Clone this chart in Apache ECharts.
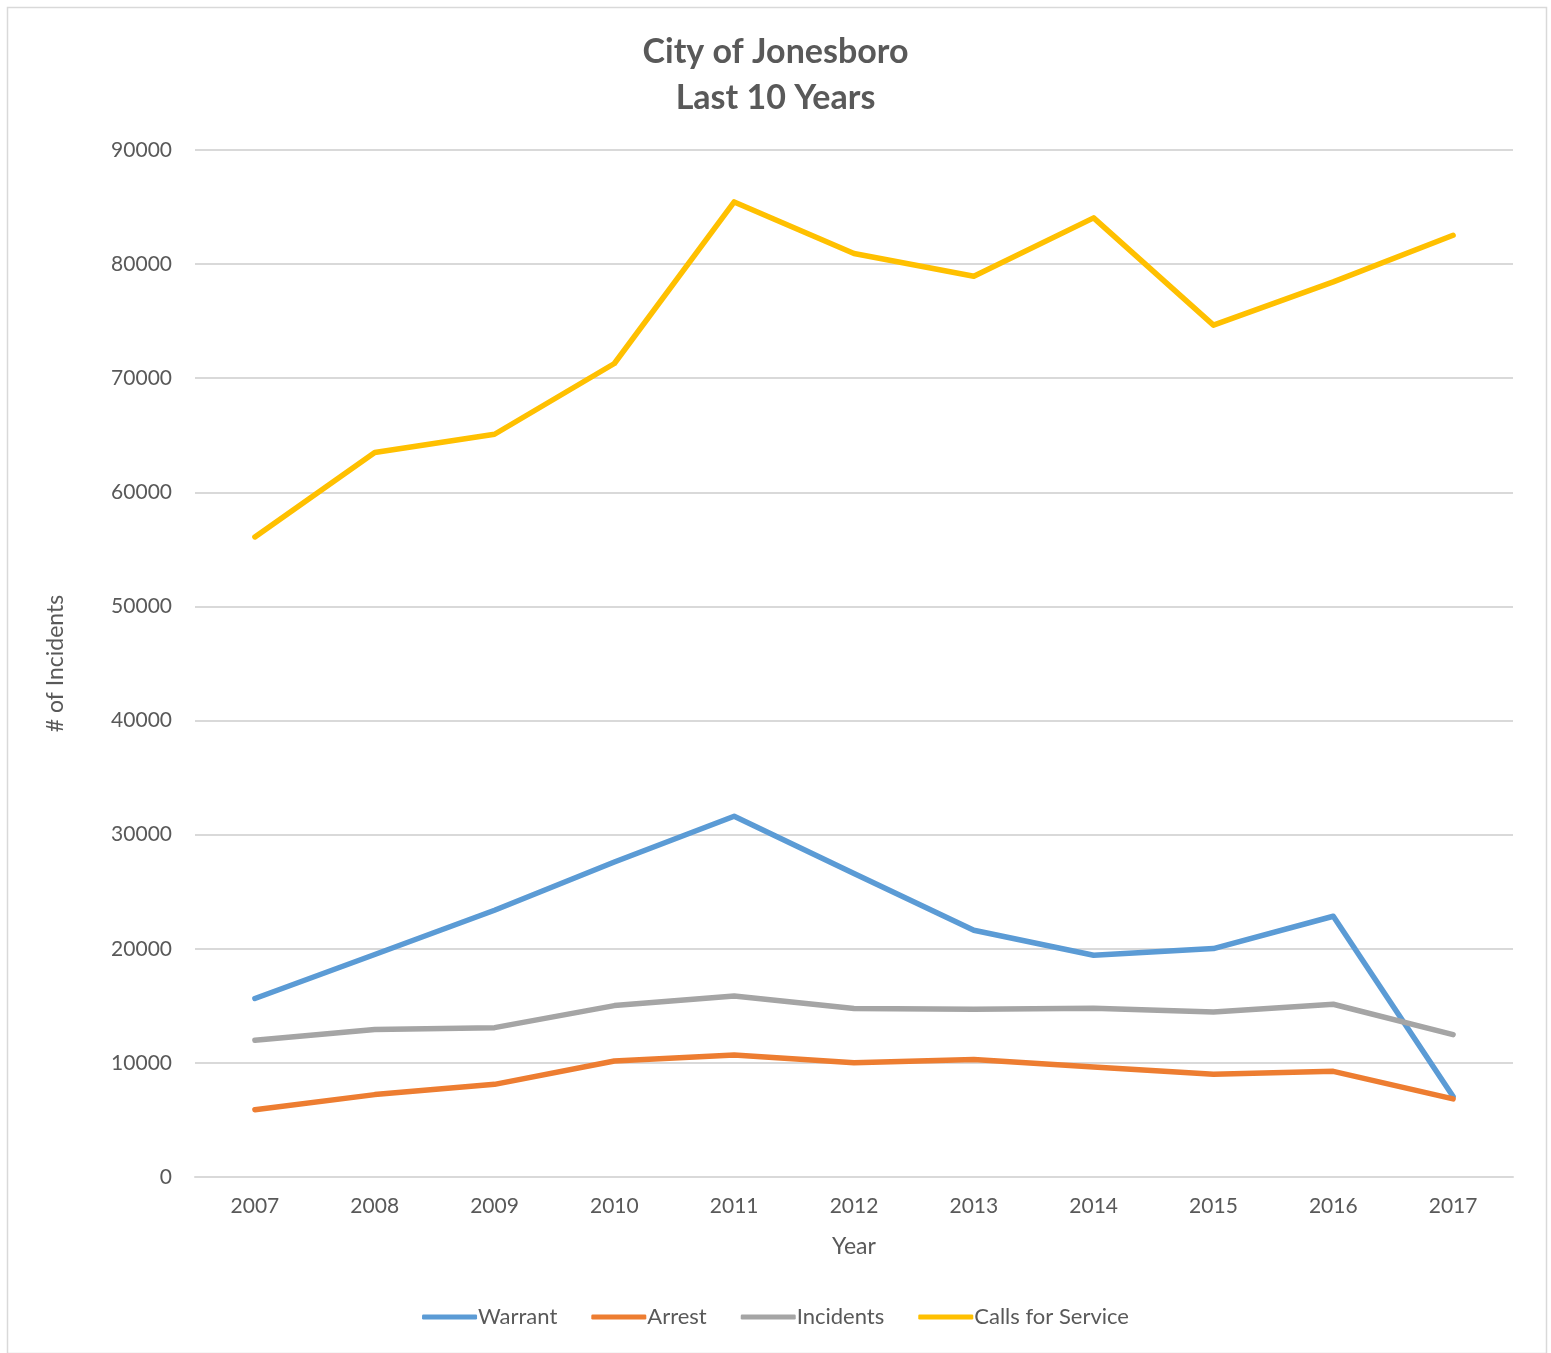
<!DOCTYPE html>
<html>
<head>
<meta charset="utf-8">
<script src="https://cdn.jsdelivr.net/npm/echarts@6/dist/echarts.min.js"></script>
<style>
html,body{margin:0;padding:0;background:#fff;}
#chart{width:1551px;height:1353px;}
</style>
</head>
<body>
<div id="chart"></div>
<script>
const years = ['2007','2008','2009','2010','2011','2012','2013','2014','2015','2016','2017'];
const warrant = [15640, 19500, 23380, 27600, 31610, 26600, 21620, 19430, 20020, 22850, 7050];
const arrest = [5900, 7220, 8120, 10170, 10690, 10020, 10290, 9640, 9000, 9260, 6850];
const incidents = [11980, 12920, 13090, 15020, 15860, 14760, 14700, 14790, 14460, 15140, 12480];
const callsForService = [56090, 63490, 65090, 71290, 85450, 80930, 78940, 84050, 74650, 78440, 82530];

const FONT = 'Lato, "Open Sans", sans-serif';
const TXT = '#595959';
const chart = echarts.init(document.getElementById('chart'));
function line(name, data, color) {
  return {
    name, type: 'line', data, symbol: 'none', animation: false,
    lineStyle: { color, width: 5.5, cap: 'round', join: 'round' },
    itemStyle: { color }
  };
}
chart.setOption({
  backgroundColor: '#fff',
  animation: false,
  title: {
    text: 'City of Jonesboro\nLast 10 Years',
    left: 'center', top: 24,
    textStyle: { fontFamily: FONT, fontSize: 34, fontWeight: 'bold', color: TXT, lineHeight: 46 }
  },
  graphic: [{
    type: 'rect', left: 5, top: 5, silent: true,
    shape: { width: 1539, height: 1346 },
    style: { fill: 'none', stroke: '#d9d9d9', lineWidth: 1.5 }
  }],
  grid: { left: 195, right: 38, top: 150, bottom: 176, containLabel: false },
  xAxis: {
    type: 'category', data: years, boundaryGap: true,
    name: 'Year', nameLocation: 'middle', nameGap: 58,
    nameTextStyle: { fontFamily: FONT, fontSize: 23, color: TXT },
    axisLine: { show: true, lineStyle: { color: '#d9d9d9', width: 2 } },
    axisTick: { show: false },
    axisLabel: { fontFamily: FONT, fontSize: 21, color: TXT, margin: 19 }
  },
  yAxis: {
    type: 'value', min: 0, max: 90000, interval: 10000,
    name: '# of Incidents', nameLocation: 'middle', nameGap: 128, nameRotate: 90,
    nameTextStyle: { fontFamily: FONT, fontSize: 23, color: TXT },
    axisLine: { show: false }, axisTick: { show: false },
    axisLabel: { fontFamily: FONT, fontSize: 21, color: TXT, margin: 23, formatter: v => String(v) },
    splitLine: { lineStyle: { color: '#d9d9d9', width: 2 } }
  },
  legend: {
    bottom: 20, left: 'center',
    icon: 'roundRect', itemWidth: 55, itemHeight: 5, itemGap: 34,
    textStyle: { fontFamily: FONT, fontSize: 22, color: TXT, padding: [0, 0, 0, -4] },
    data: ['Warrant', 'Arrest', 'Incidents', 'Calls for Service']
  },
  series: [
    line('Warrant', warrant, '#5B9BD5'),
    line('Arrest', arrest, '#ED7D31'),
    line('Incidents', incidents, '#A5A5A5'),
    line('Calls for Service', callsForService, '#FFC000')
  ]
});
</script>
</body>
</html>
